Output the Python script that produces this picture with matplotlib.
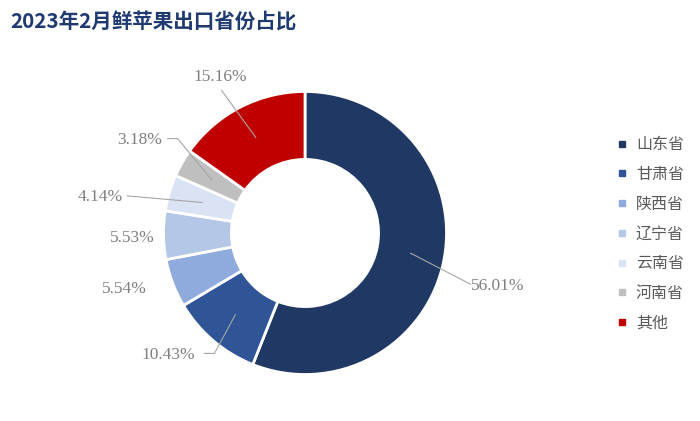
import numpy as np
import matplotlib
matplotlib.use("Agg")
import matplotlib.pyplot as plt
from matplotlib.lines import Line2D

plt.rcParams['font.family'] = ['Noto Sans CJK SC', 'DejaVu Sans']

categories = ['山东省', '甘肃省', '陕西省', '辽宁省', '云南省', '河南省', '其他']
values = [56.01, 10.43, 5.54, 5.53, 4.14, 3.18, 15.16]
labels = ['56.01%', '10.43%', '5.54%', '5.53%', '4.14%', '3.18%', '15.16%']
colors = ['#203864', '#2F5597', '#8FAADC', '#B4C7E7', '#DAE3F3', '#BFBFBF', '#C00000']
title = '2023年2月鲜苹果出口省份占比'

# layout: label text positions (data units, radius 1 pie) and leader line start points
label_pos = [(1.36, -0.376), (-0.965, -0.865), (-1.28, -0.397), (-1.22, -0.035),
             (-1.45, 0.255), (-1.17, 0.66), (-0.60, 1.10)]
leader_pts = [[(1.17, -0.362)],
              [(-0.71, -0.851), (-0.64, -0.851)],
              None, None,
              [(-1.255, 0.262)],
              [(-0.97, 0.667), (-0.90, 0.667)],
              [(-0.589, 1.007)]]

W, H = 700, 421
fig = plt.figure(figsize=(7, 4.21), dpi=100)
cx, cy, R = 305, 233, 141.5
lim = 1.6
size = 2 * lim * R
ax = fig.add_axes([(cx - size / 2) / W, (H - cy - size / 2) / H, size / W, size / H])

wedges, _ = ax.pie(values, colors=colors, startangle=90, counterclock=False, radius=1,
                   wedgeprops=dict(width=0.48, edgecolor='white', linewidth=2))
ax.set_xlim(-lim, lim)
ax.set_ylim(-lim, lim)
ax.set_aspect('equal')
ax.axis('off')

cum = np.cumsum([0] + values[:-1])
total = sum(values)
for i, v in enumerate(values):
    mid = np.deg2rad(90 - (cum[i] + v / 2) / total * 360)
    tip = (0.76 * np.cos(mid), 0.76 * np.sin(mid))
    if leader_pts[i]:
        pts = leader_pts[i] + [tip]
        ax.plot([p[0] for p in pts], [p[1] for p in pts], color='#A6A6A6', lw=0.8)
    ax.text(label_pos[i][0], label_pos[i][1], labels[i], ha='center', va='center',
            fontsize=12.5, color='#7F7F7F', family='Liberation Serif')

fig.text(10 / W, 1 - 22 / H, title, ha='left', va='center', fontsize=14.8,
         fontweight='bold', color='#1F3A70')

handles = [Line2D([0], [0], marker='s', linestyle='none', markersize=5,
                  markerfacecolor=c, markeredgecolor=c) for c in colors]
fig.legend(handles, categories, loc='center left', bbox_to_anchor=(608 / W, 1 - 234 / H),
           frameon=False, fontsize=11.5, labelcolor='#595959', handlelength=0.8,
           handletextpad=0.45, labelspacing=0.8, borderpad=0)

fig.savefig('out.png', dpi=100, facecolor='white')
